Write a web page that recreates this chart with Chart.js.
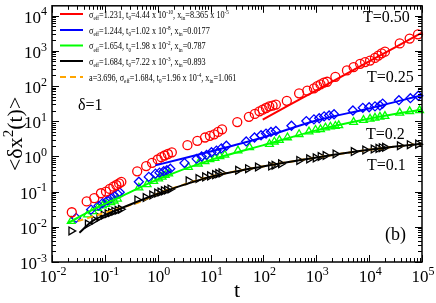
<!DOCTYPE html>
<html lang="en">

<head>
    <meta charset="UTF-8" />
    <title>MSD</title>
    <script src="https://cdn.jsdelivr.net/npm/chart.js"></script>
    <style>
        html, body { margin: 0; padding: 0; background: #fff; }
        canvas { display: block; }
    </style>
</head>

<body>
    <canvas id="msdChart" width="436" height="303"></canvas>

    <script>
        // T = 0.50 (circles)
        const tRed = [0.0237, 0.0453, 0.063, 0.0843, 0.105, 0.124, 0.145, 0.165, 0.186, 0.205,
            0.409, 0.604, 0.782, 1.0, 1.17, 1.35, 1.56, 1.85, 3.65, 5.62, 7.84, 9.73, 11.7, 13.9, 16.5,
            32.0, 53.1, 68.7, 84.1, 97, 112, 129, 149, 172, 277, 473, 676, 903, 1042, 1202, 1391, 1603,
            2296, 3802, 5081, 6745, 8375, 10400, 12900, 14900, 17200, 19900, 37900, 58400, 84000];
        const msdRed = [0.0259, 0.0526, 0.065, 0.0897, 0.1, 0.119, 0.138, 0.154, 0.171, 0.19,
            0.378, 0.532, 0.658, 0.818, 0.95, 1.06, 1.17, 1.31, 2.09, 2.78, 3.44, 3.84, 4.25, 4.96, 5.87,
            9.44, 13.3, 16.1, 19.1, 21.2, 23.7, 26.4, 27.8, 29.6, 37.9, 62.1, 73.9, 85.7, 99.4, 111, 124, 132,
            182, 278, 346, 428, 478, 529, 629, 730, 851, 944, 1620, 2230, 2940];

        // T = 0.25 (diamonds)
        const tBlue = [0.0286, 0.0548, 0.076, 0.0904, 0.112, 0.13, 0.15, 0.173, 0.191,
            0.44, 0.678, 0.906, 1.08, 1.3, 1.49, 1.73, 3.21, 5.45, 6.77, 8.39, 10.4, 12.9, 16.0, 19.9,
            47.2, 67.8, 90.1, 112, 139, 172, 339, 648, 903, 1136, 1408, 1748, 2168,
            4930, 7590, 10000, 12900, 16000, 18000, 36600, 60300, 85100];
        const msdBlue = [0.0179, 0.0308, 0.0399, 0.0471, 0.0561, 0.065, 0.0759, 0.0863, 0.0955,
            0.19, 0.262, 0.324, 0.346, 0.379, 0.404, 0.448, 0.646, 0.851, 0.993, 1.1, 1.31, 1.46, 1.69, 2.01,
            2.66, 3.44, 3.99, 4.45, 4.96, 5.29, 7.45, 10.1, 11.3, 12.1, 13.7, 14.6, 15.8,
            20.1, 24.0, 24.9, 26.4, 27.8, 31.6, 39.6, 45.1, 52.9];

        // T = 0.2 (triangles)
        const tGreen = [0.0231, 0.0473, 0.0587, 0.0728, 0.0904, 0.105, 0.13, 0.15, 0.173,
            0.44, 0.63, 0.841, 1.04, 1.21, 1.39, 1.61, 3.81, 5.86, 7.83, 9.72, 12.1, 15.0, 18.6,
            33.0, 54.7, 130, 161, 200, 285, 473, 728, 968, 1202, 1490, 1850, 2296, 2660,
            5080, 7820, 10400, 12900, 16000, 19900, 37900, 58400, 90000];
        const msdGreen = [0.0145, 0.0223, 0.0276, 0.0342, 0.0399, 0.0442, 0.0493, 0.055, 0.0625,
            0.129, 0.16, 0.199, 0.235, 0.262, 0.292, 0.324, 0.499, 0.618, 0.721, 0.819, 0.891, 1.01, 1.1,
            1.46, 1.81, 2.23, 2.61, 2.89, 3.44, 4.26, 5.06, 5.64, 5.86, 6.54, 6.98, 7.3, 7.59,
            9.44, 10.7, 11.7, 12.4, 13.3, 13.9, 17.2, 19.1, 20.4];

        // T = 0.1 (right triangles)
        const tBlack = [0.0231, 0.0473, 0.063, 0.0783, 0.0944, 0.112, 0.13, 0.15, 0.173, 0.2,
            0.409, 0.588, 0.782, 0.97, 1.12, 1.3, 1.49, 1.73, 3.81, 5.86, 7.83, 9.72, 12.1, 13.9, 16.0,
            33.0, 50.8, 78.2, 139, 161, 214, 473, 728, 968, 1202, 1490, 2296,
            5080, 8380, 12100, 14900, 17200, 19900, 37900, 58400, 84000];
        const msdBlack = [0.00763, 0.012, 0.0155, 0.0188, 0.0214, 0.0235, 0.0254, 0.0276, 0.0294, 0.0314,
            0.058, 0.068, 0.0798, 0.0908, 0.0968, 0.105, 0.111, 0.119, 0.203, 0.235, 0.262, 0.28, 0.304, 0.324, 0.34,
            0.404, 0.448, 0.499, 0.532, 0.557, 0.618, 0.768, 0.851, 0.908, 0.993, 1.06, 1.17,
            1.37, 1.52, 1.62, 1.69, 1.77, 1.81, 2.01, 2.15, 2.23];

        // fits
        const tFitRed = [97, 1000, 10000, 100000];
        const msdFitRed = [11.1, 75.5, 499, 3290];
        const tFitBlue = [0.9, 10, 100, 1000, 10000, 100000];
        const msdFitBlue = [0.557, 1.38, 3.5, 10.5, 23, 55];
        const tFitGreen = [0.02, 0.078, 0.186, 1.05, 9.84, 97, 955, 9800, 100000];
        const msdFitGreen = [0.0128, 0.038, 0.068, 0.231, 0.784, 2.06, 5.4, 11.7, 21.5];
        const tFitBlack = [0.033, 0.058, 0.121, 1.04, 9.84, 97, 955, 9800, 100000];
        const msdFitBlack = [0.0068, 0.0145, 0.0243, 0.088, 0.262, 0.52, 0.92, 1.54, 2.3];
        const tFitOrange = [0.0306, 0.078, 0.44, 1.04, 9.84, 97, 955, 9800, 100000];
        const msdFitOrange = [0.0145, 0.0223, 0.05, 0.09, 0.265, 0.52, 0.92, 1.54, 2.3];

        const legendLabels = [
            "σ_{eff}=1.231, t_{0}=4.44 x 10^{-10}, x_{in}=8.365 x 10^{-5}",
            "σ_{eff}=1.244, t_{0}=1.02 x 10^{-8}, x_{in}=0.0177",
            "σ_{eff}=1.654, t_{0}=1.98 x 10^{-2}, x_{in}=0.787",
            "σ_{eff}=1.684, t_{0}=7.22 x 10^{-3}, x_{in}=0.893",
            "a=3.696, σ_{eff}=1.684, t_{0}=1.96 x 10^{-4}, x_{in}=1.061"
        ];
        const curveLabels = ["T=0.50", "T=0.25", "T=0.2", "T=0.1"];
        const xExponents = [-2, -1, 0, 1, 2, 3, 4, 5];
        const yExponents = [-3, -2, -1, 0, 1, 2, 3, 4];

        const SERIF = "'Liberation Serif', 'Times New Roman', serif";

        function pts(ts, ys) {
            return ts.map((t, i) => ({ x: t, y: ys[i] }));
        }

        function parseRich(str) {
            const parts = [];
            const re = /([_^])\{([^}]*)\}/g;
            let last = 0, m;
            while ((m = re.exec(str)) !== null) {
                if (m.index > last) parts.push([str.slice(last, m.index), ""]);
                parts.push([m[2], m[1] === "_" ? "sub" : "sup"]);
                last = re.lastIndex;
            }
            if (last < str.length) parts.push([str.slice(last), ""]);
            return parts;
        }

        // draws text with sub/superscripts, y = baseline
        function drawRich(ctx, str, x, y, size, align) {
            const parts = parseRich(str);
            const small = Math.round(size * 0.68);
            let w = 0;
            parts.forEach((p) => {
                ctx.font = (p[1] ? small : size) + "px " + SERIF;
                w += ctx.measureText(p[0]).width;
            });
            let cx = x;
            if (align === "center") cx = x - w / 2;
            if (align === "right") cx = x - w;
            ctx.textAlign = "left";
            ctx.textBaseline = "alphabetic";
            parts.forEach((p) => {
                ctx.font = (p[1] ? small : size) + "px " + SERIF;
                let dy = 0;
                if (p[1] === "sub") dy = size * 0.28;
                if (p[1] === "sup") dy = -size * 0.42;
                ctx.fillText(p[0], cx, y + dy);
                cx += ctx.measureText(p[0]).width;
            });
            return w;
        }

        const framePlugin = {
            id: "frame",
            afterDraw(chart) {
                const ctx = chart.ctx;
                const a = chart.chartArea;
                const xs = chart.scales.x;
                const ys = chart.scales.y;
                ctx.save();
                ctx.fillStyle = "#000";
                ctx.strokeStyle = "#000";

                // frame
                ctx.lineWidth = 1.5;
                ctx.strokeRect(a.left, a.top, a.right - a.left, a.bottom - a.top);

                // inward ticks on all four sides
                ctx.lineWidth = 1;
                ctx.beginPath();
                xExponents.forEach((k) => {
                    for (let m = 1; m <= 9; m++) {
                        const v = m * Math.pow(10, k);
                        if (v > xs.max * 1.0001) break;
                        const px = Math.round(xs.getPixelForValue(v)) + 0.5;
                        const len = m === 1 ? 7 : 4;
                        ctx.moveTo(px, a.bottom); ctx.lineTo(px, a.bottom - len);
                        ctx.moveTo(px, a.top); ctx.lineTo(px, a.top + len);
                    }
                });
                yExponents.forEach((k) => {
                    for (let m = 1; m <= 9; m++) {
                        const v = m * Math.pow(10, k);
                        if (v > ys.max) break;
                        const py = Math.round(ys.getPixelForValue(v)) + 0.5;
                        const len = m === 1 ? 7 : 4;
                        ctx.moveTo(a.left, py); ctx.lineTo(a.left + len, py);
                        ctx.moveTo(a.right, py); ctx.lineTo(a.right - len, py);
                    }
                });
                ctx.stroke();

                // tick labels
                xExponents.forEach((k) => {
                    const px = xs.getPixelForValue(Math.pow(10, k));
                    drawRich(ctx, "10^{" + k + "}", px + 1, a.bottom + 20, 17, "center");
                });
                yExponents.forEach((k) => {
                    const py = ys.getPixelForValue(Math.pow(10, k));
                    drawRich(ctx, "10^{" + k + "}", a.left - 5, py + 7, 17, "right");
                });

                // axis titles
                drawRich(ctx, "t", (a.left + a.right) / 2, 297, 22, "center");
                ctx.save();
                ctx.translate(22, (a.top + a.bottom) / 2);
                ctx.rotate(-Math.PI / 2);
                drawRich(ctx, "<δx^{2}(t)>", 0, 0, 22, "center");
                ctx.restore();

                // legend
                const legendColors = ["#ff0000", "#0000ff", "#00ff00", "#000000", "#ffa500"];
                const rowY = [14, 30, 45.5, 61, 77];
                legendLabels.forEach((lbl, i) => {
                    ctx.beginPath();
                    ctx.strokeStyle = legendColors[i];
                    ctx.lineWidth = 2;
                    ctx.setLineDash(i === 4 ? [6, 4] : []);
                    ctx.moveTo(60, rowY[i]);
                    ctx.lineTo(83, rowY[i]);
                    ctx.stroke();
                    ctx.setLineDash([]);
                    ctx.save();
                    ctx.translate(89, rowY[i] + 3.5);
                    ctx.scale(0.86, 1);
                    drawRich(ctx, lbl, 0, 0, 9.5, "left");
                    ctx.restore();
                });

                // annotations
                drawRich(ctx, curveLabels[0], 363, 22, 16, "left");
                drawRich(ctx, curveLabels[1], 367, 82, 16, "left");
                drawRich(ctx, curveLabels[2], 366, 139, 16, "left");
                drawRich(ctx, curveLabels[3], 367, 170, 16, "left");
                drawRich(ctx, "δ=1", 78, 110, 16, "left");
                drawRich(ctx, "(b)", 385, 240, 18, "left");
                ctx.restore();
            }
        };

        function pointSet(ts, ys, color, style, rot) {
            return {
                data: pts(ts, ys),
                showLine: false,
                pointStyle: style,
                rotation: rot || 0,
                pointRadius: 4.5,
                pointBorderWidth: 1.3,
                borderColor: color,
                backgroundColor: "rgba(0,0,0,0)",
                clip: false,
                order: 2
            };
        }

        function lineSet(ts, ys, color, dash) {
            return {
                data: pts(ts, ys),
                showLine: true,
                pointRadius: 0,
                borderColor: color,
                borderWidth: 2,
                borderDash: dash || [],
                tension: 0.3,
                order: 1
            };
        }

        document.addEventListener("DOMContentLoaded", function () {
            const ctx = document.getElementById("msdChart").getContext("2d");
            new Chart(ctx, {
                type: "scatter",
                data: {
                    datasets: [
                        pointSet(tRed, msdRed, "#ff0000", "circle"),
                        pointSet(tBlue, msdBlue, "#0000ff", "rectRot"),
                        pointSet(tGreen, msdGreen, "#00ff00", "triangle"),
                        pointSet(tBlack, msdBlack, "#000000", "triangle", 90),
                        lineSet(tFitRed, msdFitRed, "#ff0000"),
                        lineSet(tFitBlue, msdFitBlue, "#0000ff"),
                        lineSet(tFitGreen, msdFitGreen, "#00ff00"),
                        lineSet(tFitBlack, msdFitBlack, "#000000"),
                        lineSet(tFitOrange, msdFitOrange, "#ffa500", [6, 4])
                    ]
                },
                options: {
                    responsive: false,
                    animation: false,
                    layout: { padding: { left: 52, right: 14, top: 1, bottom: 41 } },
                    scales: {
                        x: { type: "logarithmic", min: 0.01, max: 100000, display: false },
                        y: { type: "logarithmic", min: 0.001, max: 19000, display: false }
                    },
                    plugins: {
                        legend: { display: false },
                        tooltip: { enabled: false }
                    }
                },
                plugins: [framePlugin]
            });
        });
    </script>
</body>

</html>
